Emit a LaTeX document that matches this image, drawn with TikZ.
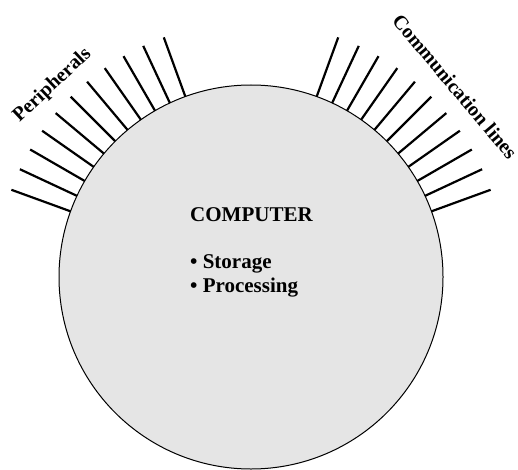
\documentclass[tikz,border=0pt]{standalone}
\usepackage{fontspec}
\setmainfont{Liberation Serif}
\usetikzlibrary{calc,positioning}
\definecolor{computerColor}{RGB}{229,229,229}
\tikzset{computer/.style={circle, draw, fill=computerColor, line width=1pt, minimum size=384pt, inner sep=0pt, outer sep=0pt}}
\tikzset{spoke/.style={line width=2.2pt}}
\tikzset{tag/.style={font=\bfseries\fontsize{20}{24}\selectfont, inner sep=0pt}}
\tikzset{listing/.style={font=\bfseries\fontsize{21}{24}\selectfont, align=left, inner sep=0pt}}

\begin{document}
\begin{tikzpicture}[x=1pt, y=1pt]
\useasboundingbox (0,0) rectangle (518,469);
% Nodes
    \node (Computer) [computer] at (251,192) {};

    \node (ComputerTitle) [listing, anchor=base west] at (190,248) {COMPUTER};

    \node (ComputerTasks) [listing, anchor=base west] at (190,177) {• Storage\\ • Processing};

    \node (PeripheralsTag) [tag, rotate=43] at ($(Computer.center)+(136:276)$) {Peripherals};

    \node (LinesTag) [tag, rotate=-50] at ($(Computer.center)+(43:279)$) {Communication lines};

% Spokes
\foreach \ang in {20,25,...,70,110,115,...,160} {
    \coordinate (Tip\ang) at ($(Computer.center)+(\ang:255)$);
    \draw [spoke] (Computer.\ang) -- (Tip\ang);
}

\end{tikzpicture}
\end{document}
